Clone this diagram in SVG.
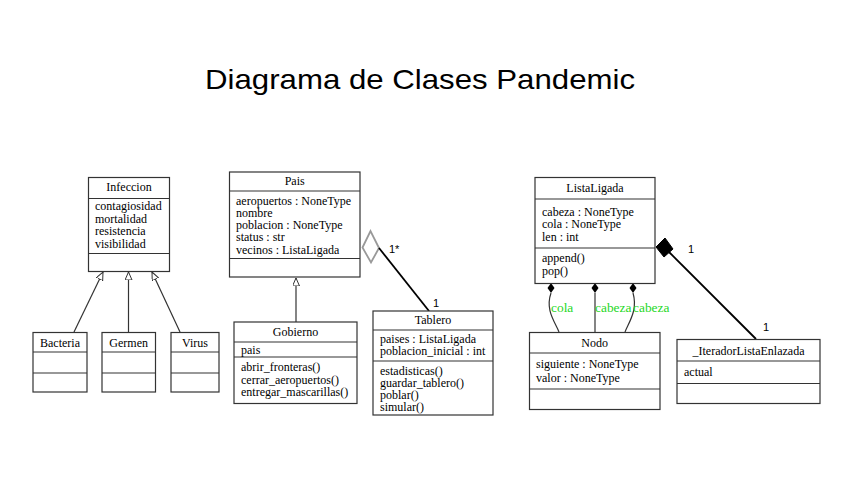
<svg xmlns="http://www.w3.org/2000/svg" width="848" height="492" viewBox="0 0 848 492">
<defs>
<style>
.box{fill:#fff;stroke:#333;stroke-width:1.2}
.sep{stroke:#333;stroke-width:1.2}
.t{font-family:"Liberation Serif","Times New Roman",serif;font-size:12px;fill:#000}
.c{text-anchor:middle}
.edge{fill:none;stroke:#333;stroke-width:1.2}
.assoc{fill:none;stroke:#000;stroke-width:1.8}
.lbl{font-family:"Liberation Serif",serif;font-size:13.4px;fill:#1fd81f}
.m{font-family:"Liberation Sans",Arial,sans-serif;font-size:11px;fill:#000}
</style>
<marker id="inh" markerWidth="10" markerHeight="10" refX="8" refY="3.5" orient="auto" markerUnits="userSpaceOnUse">
<path d="M0,0 L8,3.5 L0,7 z" fill="#fff" stroke="#333" stroke-width="1"/>
</marker>
</defs>
<rect width="848" height="492" fill="#fff"/>
<text x="205" y="89" font-family="Liberation Sans, Arial, sans-serif" font-size="28" textLength="430" lengthAdjust="spacingAndGlyphs" fill="#000">Diagrama de Clases Pandemic</text>

<g id="connectors">
<line class="edge" x1="74" y1="332" x2="103" y2="272" marker-end="url(#inh)"/>
<line class="edge" x1="128.5" y1="332" x2="128.5" y2="272" marker-end="url(#inh)"/>
<line class="edge" x1="180" y1="332" x2="152" y2="272" marker-end="url(#inh)"/>
<line class="edge" x1="296" y1="322" x2="296" y2="278" marker-end="url(#inh)"/>
<polygon points="362.5,247.5 370.5,231 379,248 371,262.5" fill="#fff" stroke="#999" stroke-width="1.8"/>
<line class="assoc" x1="379" y1="248" x2="429" y2="311"/>
<text class="m" x="389" y="253">1*</text>
<text class="m" x="433" y="307">1</text>
<polygon points="656,247 665,238 673,249 664,257" fill="#000" stroke="#000" stroke-width="1"/>
<line class="assoc" x1="669" y1="252" x2="756" y2="339"/>
<text class="m" x="688" y="253">1</text>
<text class="m" x="763" y="331">1</text>
<polygon points="551,283 554.5,288 551,293 547.5,288" fill="#000"/>
<polygon points="595,283 598.5,288 595,293 591.5,288" fill="#000"/>
<polygon points="633,283 636.5,288 633,293 629.5,288" fill="#000"/>
<path class="edge" d="M551,293 C545,310 555,322 559,332"/>
<path class="edge" d="M595,293 L595,332"/>
<path class="edge" d="M633,293 C638,310 629,322 625,332"/>
<text class="lbl" x="551" y="312">cola</text>
<text class="lbl" x="595" y="312">cabeza</text>
<text class="lbl" x="633" y="312">cabeza</text>
</g>

<g id="Infeccion">
<rect class="box" x="88.5" y="177.5" width="81" height="94"/>
<line class="sep" x1="88.5" y1="198.5" x2="169.5" y2="198.5"/>
<line class="sep" x1="88.5" y1="253.5" x2="169.5" y2="253.5"/>
<text class="t c" x="129" y="191">Infeccion</text>
<text class="t" x="95" y="210">contagiosidad</text>
<text class="t" x="95" y="222.5">mortalidad</text>
<text class="t" x="95" y="235">resistencia</text>
<text class="t" x="95" y="247.5">visibilidad</text>
</g>

<g id="Bacteria">
<rect class="box" x="33" y="332.5" width="54" height="59.5"/>
<line class="sep" x1="33" y1="352" x2="87" y2="352"/>
<line class="sep" x1="33" y1="373" x2="87" y2="373"/>
<text class="t c" x="60" y="346.5">Bacteria</text>
</g>

<g id="Germen">
<rect class="box" x="102" y="332.5" width="53.5" height="59.5"/>
<line class="sep" x1="102" y1="352" x2="155.5" y2="352"/>
<line class="sep" x1="102" y1="373" x2="155.5" y2="373"/>
<text class="t c" x="128.7" y="346.5">Germen</text>
</g>

<g id="Virus">
<rect class="box" x="171" y="332.5" width="48" height="59.5"/>
<line class="sep" x1="171" y1="352" x2="219" y2="352"/>
<line class="sep" x1="171" y1="373" x2="219" y2="373"/>
<text class="t c" x="195" y="346.5">Virus</text>
</g>

<g id="Pais">
<rect class="box" x="229.5" y="172" width="130.5" height="105"/>
<line class="sep" x1="229.5" y1="191" x2="360" y2="191"/>
<line class="sep" x1="229.5" y1="258.5" x2="360" y2="258.5"/>
<text class="t c" x="294.7" y="185">Pais</text>
<text class="t" x="236" y="204.5">aeropuertos : NoneType</text>
<text class="t" x="236" y="216.8">nombre</text>
<text class="t" x="236" y="229.1">poblacion : NoneType</text>
<text class="t" x="236" y="241.4">status : str</text>
<text class="t" x="236" y="253.7">vecinos : ListaLigada</text>
</g>

<g id="Gobierno">
<rect class="box" x="234" y="322" width="123" height="81.5"/>
<line class="sep" x1="234" y1="342" x2="357" y2="342"/>
<line class="sep" x1="234" y1="357" x2="357" y2="357"/>
<text class="t c" x="295.5" y="336">Gobierno</text>
<text class="t" x="241" y="354">pais</text>
<text class="t" x="241" y="371">abrir_fronteras()</text>
<text class="t" x="241" y="383.5">cerrar_aeropuertos()</text>
<text class="t" x="241" y="396">entregar_mascarillas()</text>
</g>

<g id="Tablero">
<rect class="box" x="373" y="311" width="120" height="104"/>
<line class="sep" x1="373" y1="330" x2="493" y2="330"/>
<line class="sep" x1="373" y1="361" x2="493" y2="361"/>
<text class="t c" x="433" y="324">Tablero</text>
<text class="t" x="380" y="343">paises : ListaLigada</text>
<text class="t" x="380" y="355">poblacion_inicial : int</text>
<text class="t" x="380" y="374.5">estadisticas()</text>
<text class="t" x="380" y="386.5">guardar_tablero()</text>
<text class="t" x="380" y="398.5">poblar()</text>
<text class="t" x="380" y="410.5">simular()</text>
</g>

<g id="ListaLigada">
<rect class="box" x="535" y="177.5" width="120" height="106"/>
<line class="sep" x1="535" y1="199" x2="655" y2="199"/>
<line class="sep" x1="535" y1="248" x2="655" y2="248"/>
<text class="t c" x="595" y="192">ListaLigada</text>
<text class="t" x="542" y="215.5">cabeza : NoneType</text>
<text class="t" x="542" y="228">cola : NoneType</text>
<text class="t" x="542" y="240.5">len : int</text>
<text class="t" x="542" y="262">append()</text>
<text class="t" x="542" y="274.5">pop()</text>
</g>

<g id="Nodo">
<rect class="box" x="529.5" y="332.5" width="130.5" height="77"/>
<line class="sep" x1="529.5" y1="353" x2="660" y2="353"/>
<line class="sep" x1="529.5" y1="389" x2="660" y2="389"/>
<text class="t c" x="594.7" y="347">Nodo</text>
<text class="t" x="536" y="368">siguiente : NoneType</text>
<text class="t" x="536" y="382">valor : NoneType</text>
</g>

<g id="IteradorListaEnlazada">
<rect class="box" x="677" y="339.5" width="143" height="64"/>
<line class="sep" x1="677" y1="361" x2="820" y2="361"/>
<line class="sep" x1="677" y1="383.5" x2="820" y2="383.5"/>
<text class="t c" x="748.5" y="354.5">_IteradorListaEnlazada</text>
<text class="t" x="684" y="375.5">actual</text>
</g>
</svg>
